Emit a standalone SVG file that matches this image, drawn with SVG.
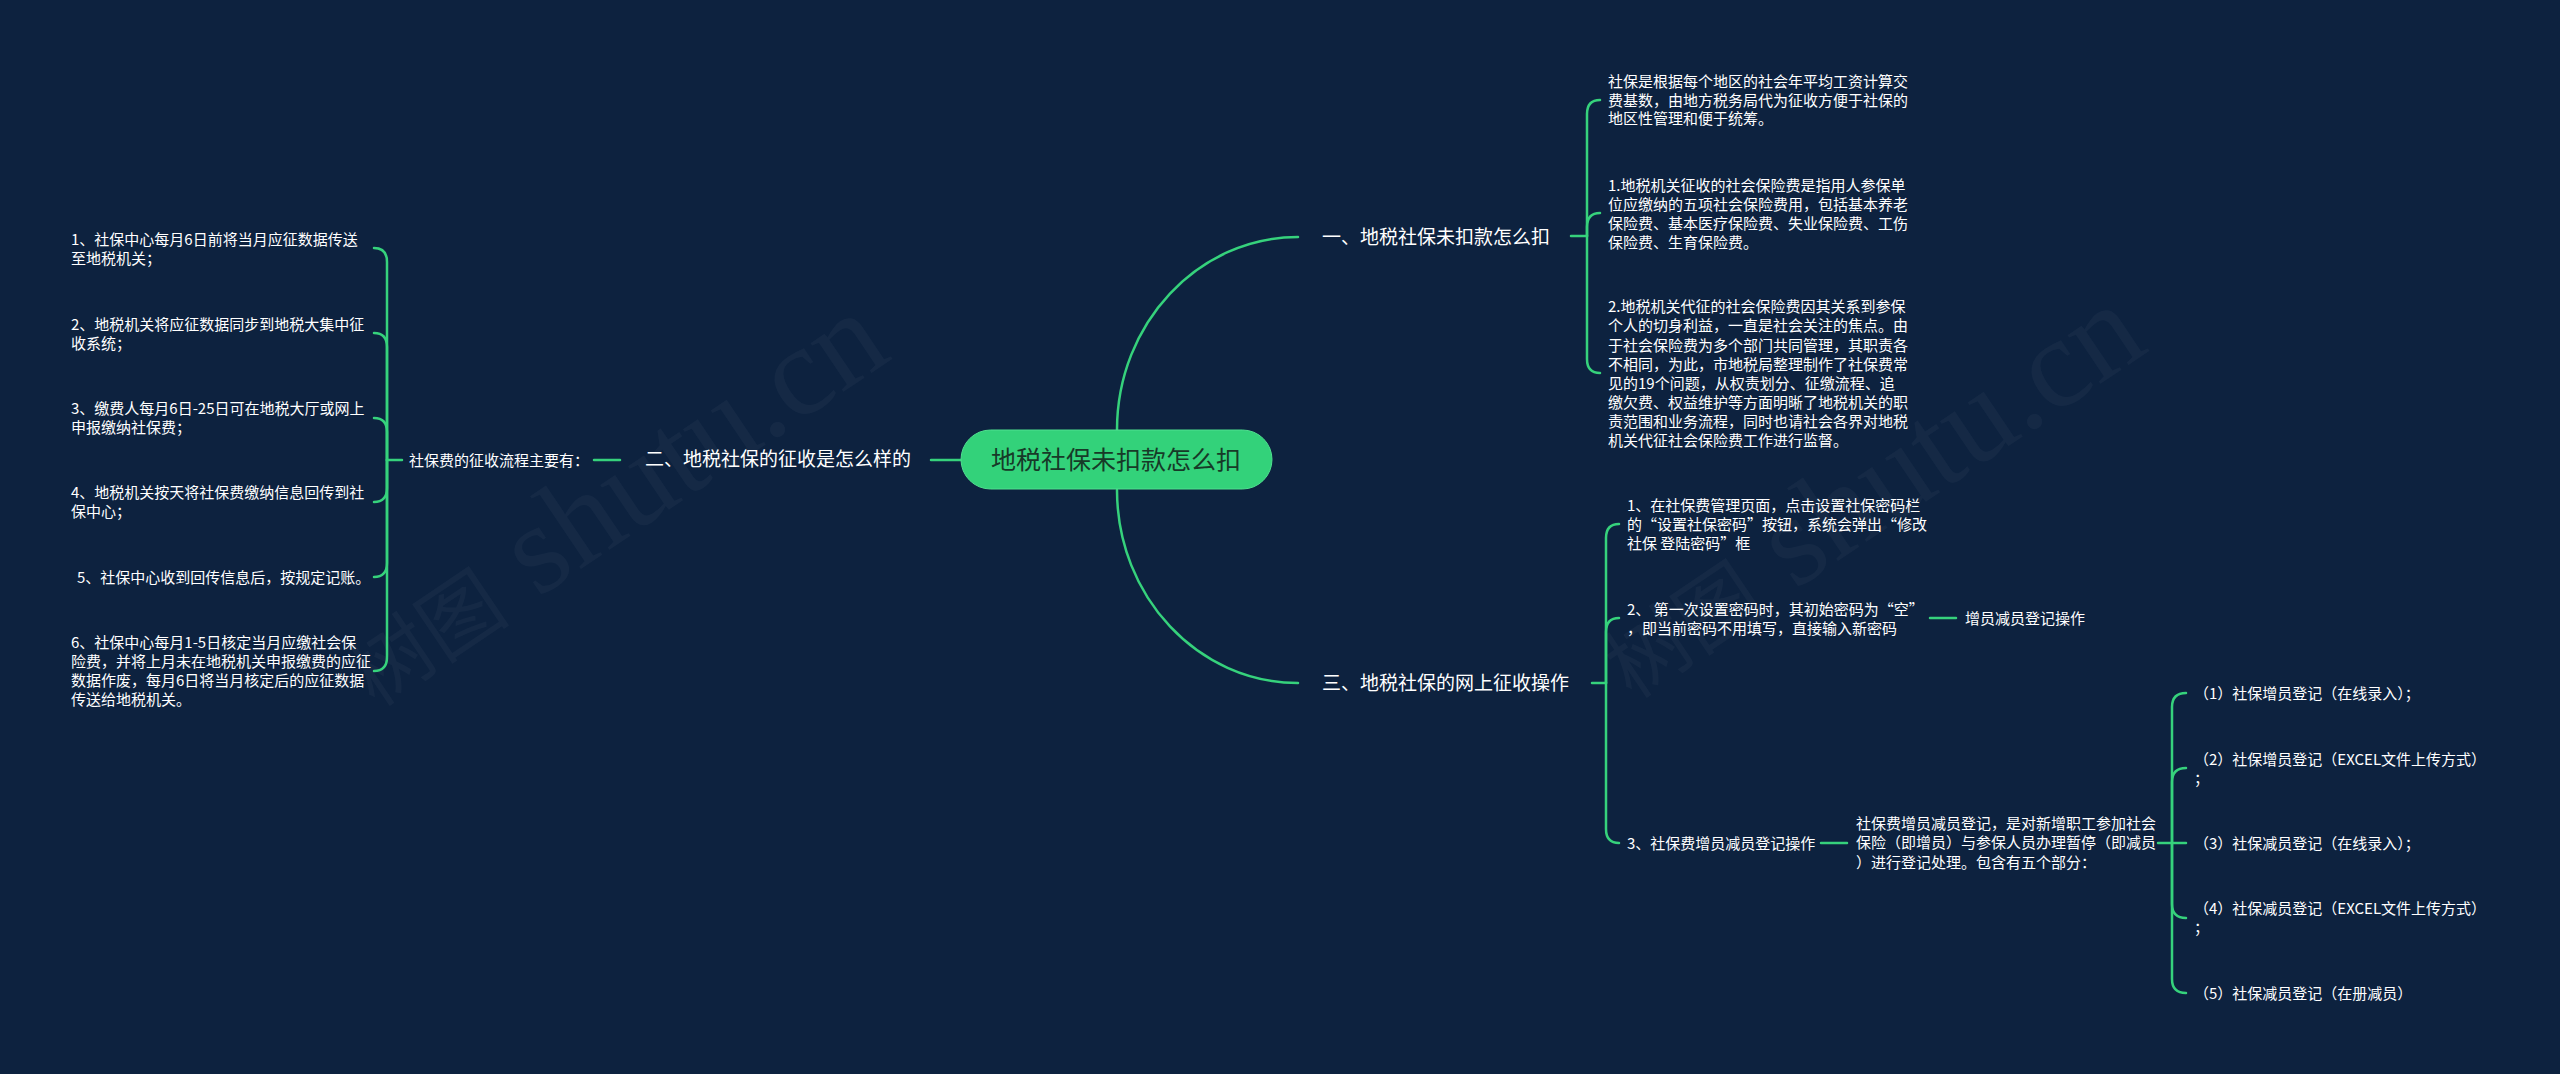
<svg xmlns="http://www.w3.org/2000/svg" width="2560" height="1074" viewBox="0 0 2560 1074">
<style>
.t{font-family:"Noto Sans CJK SC","Liberation Sans",sans-serif;font-size:15px;fill:#ffffff}
.b{font-size:19px}
.root{font-family:"Noto Sans CJK SC","Liberation Sans",sans-serif;font-size:25px;fill:#173a28}
.ln{stroke:#36d27c;stroke-width:2.5;fill:none;stroke-linecap:round}
.wm{fill:#ffffff;fill-opacity:0.035;font-family:"Liberation Serif","Noto Sans CJK SC",serif}
</style>
<rect width="2560" height="1074" fill="#0d223f"/>
<g id="watermark">
<text class="wm" transform="translate(375,708) rotate(-34)"><tspan font-size="82">树图</tspan><tspan font-size="128"> shutu.cn</tspan></text>
<text class="wm" transform="translate(1632,700) rotate(-34)"><tspan font-size="82">树图</tspan><tspan font-size="128"> shutu.cn</tspan></text>
</g>
<g id="connectors">
<path class="ln" d="M1117,430 C1117,323.5 1198,237 1298,237"/>
<path class="ln" d="M1117,490 C1117,596.5 1198,683 1298,683"/>
<path class="ln" d="M931,460 H961"/>
<path class="ln" d="M594,460 H620"/>
<path class="ln" d="M387,460 H402"/>
<path class="ln" d="M387,460 V262 Q387,248 374,248"/>
<path class="ln" d="M387,460 V347 Q387,333 374,333"/>
<path class="ln" d="M387,460 V432 Q387,418 374,418"/>
<path class="ln" d="M387,460 V488 Q387,502 374,502"/>
<path class="ln" d="M387,460 V563 Q387,577 374,577"/>
<path class="ln" d="M387,460 V657 Q387,671 374,671"/>
<path class="ln" d="M1571,236 H1587"/>
<path class="ln" d="M1587,236 V114 Q1587,100 1600,100"/>
<path class="ln" d="M1587,236 V227 Q1587,213 1600,213"/>
<path class="ln" d="M1587,236 V359 Q1587,373 1600,373"/>
<path class="ln" d="M1592,683 H1606"/>
<path class="ln" d="M1606,683 V538 Q1606,524 1619,524"/>
<path class="ln" d="M1606,683 V632 Q1606,618 1619,618"/>
<path class="ln" d="M1606,683 V829 Q1606,843 1619,843"/>
<path class="ln" d="M1930,618 H1956"/>
<path class="ln" d="M1821,843 H1847"/>
<path class="ln" d="M2158,843 H2186"/>
<path class="ln" d="M2172,843 V707 Q2172,693 2186,693"/>
<path class="ln" d="M2172,843 V782 Q2172,768 2186,768"/>
<path class="ln" d="M2172,843 V904 Q2172,918 2186,918"/>
<path class="ln" d="M2172,843 V979 Q2172,993 2186,993"/>
</g>
<g id="root">
<rect x="961" y="430" width="311" height="59" rx="29.5" fill="#33d27a" stroke="#4fe08f" stroke-width="1"/>
<text class="root" x="1116" y="469" text-anchor="middle">地税社保未扣款怎么扣</text>
</g>
<g id="b1">
<text class="t b" x="1322" y="243.5">一、地税社保未扣款怎么扣</text>
</g>
<g id="b1c1">
<text class="t" x="1608" y="87">社保是根据每个地区的社会年平均工资计算交</text>
<text class="t" x="1608" y="105.5">费基数，由地方税务局代为征收方便于社保的</text>
<text class="t" x="1608" y="124">地区性管理和便于统筹。</text>
</g>
<g id="b1c2">
<text class="t" x="1608" y="190.5">1.地税机关征收的社会保险费是指用人参保单</text>
<text class="t" x="1608" y="209.5">位应缴纳的五项社会保险费用，包括基本养老</text>
<text class="t" x="1608" y="228.5">保险费、基本医疗保险费、失业保险费、工伤</text>
<text class="t" x="1608" y="247.5">保险费、生育保险费。</text>
</g>
<g id="b1c3">
<text class="t" x="1608" y="312">2.地税机关代征的社会保险费因其关系到参保</text>
<text class="t" x="1608" y="331">个人的切身利益，一直是社会关注的焦点。由</text>
<text class="t" x="1608" y="350.5">于社会保险费为多个部门共同管理，其职责各</text>
<text class="t" x="1608" y="369.5">不相同，为此，市地税局整理制作了社保费常</text>
<text class="t" x="1608" y="388.5">见的19个问题，从权责划分、征缴流程、追</text>
<text class="t" x="1608" y="407.5">缴欠费、权益维护等方面明晰了地税机关的职</text>
<text class="t" x="1608" y="426.5">责范围和业务流程，同时也请社会各界对地税</text>
<text class="t" x="1608" y="445.5">机关代征社会保险费工作进行监督。</text>
</g>
<g id="b2">
<text class="t b" x="645" y="466">二、地税社保的征收是怎么样的</text>
</g>
<g id="b2s">
<text class="t" x="409" y="465.5">社保费的征收流程主要有：</text>
</g>
<g id="b2c1">
<text class="t" x="71" y="245">1、社保中心每月6日前将当月应征数据传送</text>
<text class="t" x="71" y="264">至地税机关；</text>
</g>
<g id="b2c2">
<text class="t" x="71" y="329.5">2、地税机关将应征数据同步到地税大集中征</text>
<text class="t" x="71" y="348.5">收系统；</text>
</g>
<g id="b2c3">
<text class="t" x="71" y="413.5">3、缴费人每月6日-25日可在地税大厅或网上</text>
<text class="t" x="71" y="432.5">申报缴纳社保费；</text>
</g>
<g id="b2c4">
<text class="t" x="71" y="498">4、地税机关按天将社保费缴纳信息回传到社</text>
<text class="t" x="71" y="517">保中心；</text>
</g>
<g id="b2c5">
<text class="t" x="77" y="583">5、社保中心收到回传信息后，按规定记账。</text>
</g>
<g id="b2c6">
<text class="t" x="71" y="648">6、社保中心每月1-5日核定当月应缴社会保</text>
<text class="t" x="71" y="667">险费，并将上月未在地税机关申报缴费的应征</text>
<text class="t" x="71" y="686">数据作废，每月6日将当月核定后的应征数据</text>
<text class="t" x="71" y="705">传送给地税机关。</text>
</g>
<g id="b3">
<text class="t b" x="1322" y="689.5">三、地税社保的网上征收操作</text>
</g>
<g id="b3c1">
<text class="t" x="1627" y="510.5">1、在社保费管理页面，点击设置社保密码栏</text>
<text class="t" x="1627" y="529.5">的“设置社保密码”按钮，系统会弹出“修改</text>
<text class="t" x="1627" y="548.5">社保 登陆密码”框</text>
</g>
<g id="b3c2">
<text class="t" x="1627" y="615">2、 第一次设置密码时，其初始密码为“空”</text>
<text class="t" x="1627" y="634">，即当前密码不用填写，直接输入新密码</text>
</g>
<g id="b3c2a">
<text class="t" x="1965" y="623.5">增员减员登记操作</text>
</g>
<g id="b3c3">
<text class="t" x="1627" y="848.5">3、社保费增员减员登记操作</text>
</g>
<g id="b3c3a">
<text class="t" x="1856" y="828.5">社保费增员减员登记，是对新增职工参加社会</text>
<text class="t" x="1856" y="848">保险（即增员）与参保人员办理暂停（即减员</text>
<text class="t" x="1856" y="868">）进行登记处理。包含有五个部分：</text>
</g>
<g id="p1"><text class="t" x="2194" y="698.5">（1）社保增员登记（在线录入）；</text></g>
<g id="p2"><text class="t" x="2194" y="764.5">（2）社保增员登记（EXCEL文件上传方式）</text><text class="t" x="2194" y="784">；</text></g>
<g id="p3"><text class="t" x="2194" y="848.5">（3）社保减员登记（在线录入）；</text></g>
<g id="p4"><text class="t" x="2194" y="913.5">（4）社保减员登记（EXCEL文件上传方式）</text><text class="t" x="2194" y="933">；</text></g>
<g id="p5"><text class="t" x="2194" y="998.5">（5）社保减员登记（在册减员）</text></g>
</svg>
